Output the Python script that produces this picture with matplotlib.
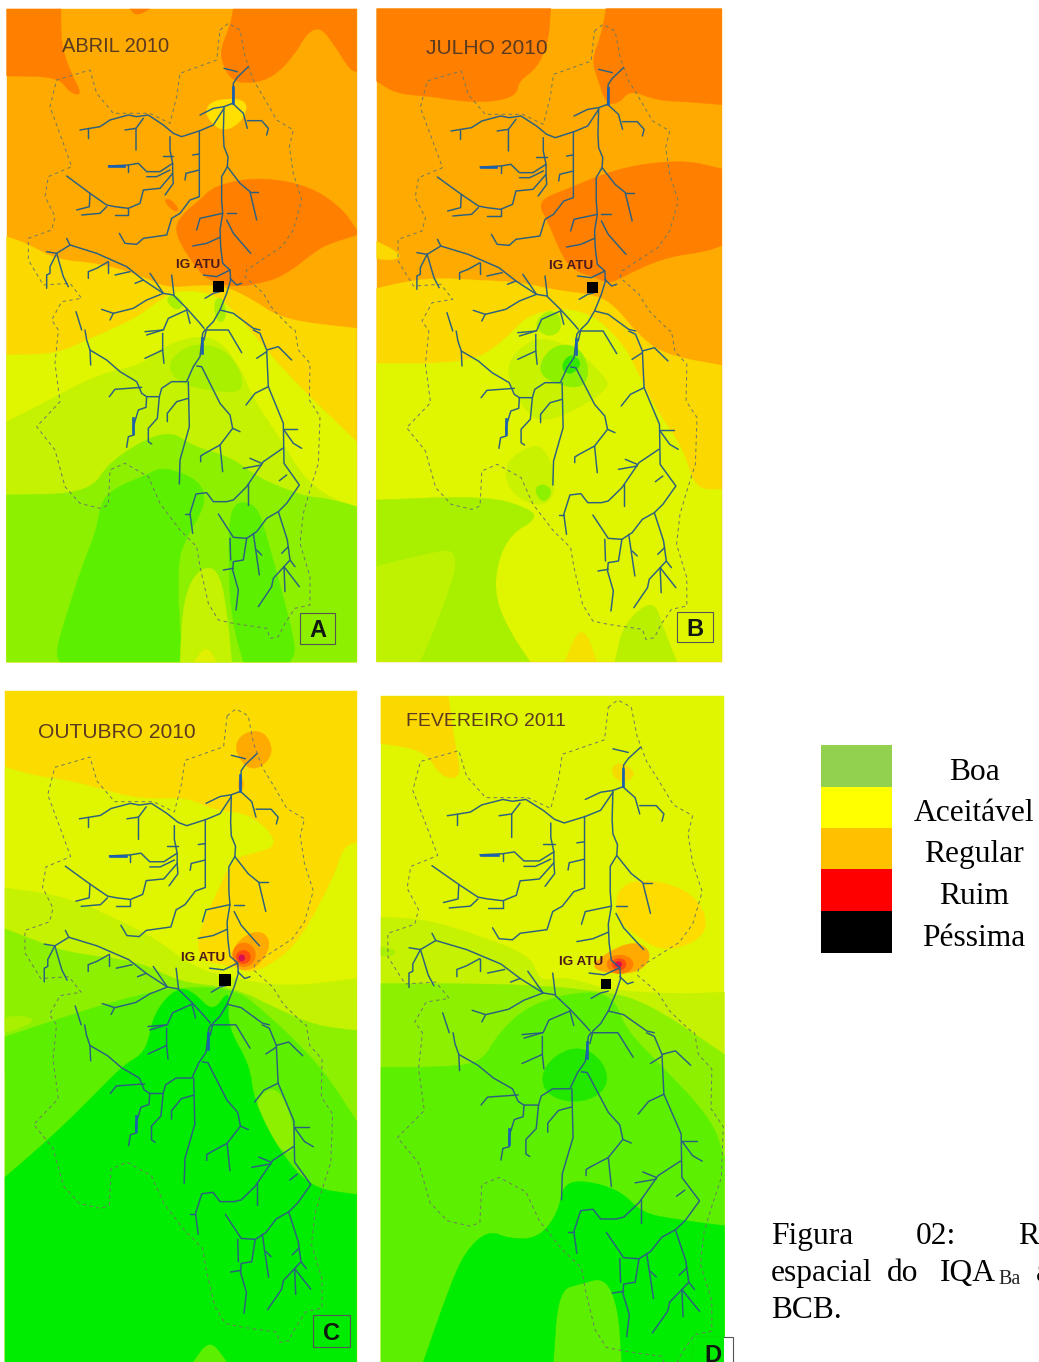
import matplotlib
matplotlib.use("Agg")
import matplotlib.pyplot as plt
from matplotlib.patches import PathPatch, Rectangle, Ellipse
from matplotlib.path import Path

# ---- colours of the interpolated classes
DARK = '#FF8000'; ORANGE = '#FFAA00'; GOLD = '#FBD800'; YG = '#E0F500'; YG2 = '#C4F200'
LIME0 = '#A8F000'; LIME = '#8CF000'; GREEN = '#5CF000'; PURE = '#00EC00'

# ---- river network (3x coordinates; lower part offset 990)
RIVERS_TOP = [
 [(745,200),(712,232),(700,250),(698,310),(672,320),(670,400),(672,440),(684,470),(682,500),(665,530),(665,600),(668,640),(660,690),(662,740),(668,790),(690,810),(692,840),(680,880),(660,930),(640,965),(620,985),(612,1020)],
 [(672,205),(712,215)], [(698,310),(730,340),(742,385)], [(742,362),(785,362),(805,385),(800,405)],
 [(672,320),(640,325),(600,345)],
 [(672,325),(640,375),(600,392),(545,410),(520,400),(490,375),(445,345),(410,350),(385,345),(330,360),(300,380),(240,390)],
 [(265,385),(265,415)], [(430,355),(408,385),(408,450)], [(408,385),(375,390)],
 [(510,410),(510,450),(518,490),(518,520),(520,550),(495,585)], [(490,468),(520,468)],
 [(518,490),(480,515),(440,515),(415,490),(385,495),(325,498)], [(385,495),(385,515)], [(510,510),(470,530),(440,530)],
 [(518,520),(480,565),(430,570),(420,610),(385,625),(345,620),(320,615),(270,580),(200,528)],
 [(385,625),(385,645),(345,645)], [(320,620),(300,640),(245,645)], [(270,580),(268,620),(230,630)],
 [(598,392),(598,590),(570,600),(540,640),(515,655),(500,705),(430,715),(410,733),(375,730),(358,700)],
 [(598,462),(578,465)], [(598,510),(558,520),(555,540)],
 [(682,500),(720,550),(750,575),(770,660)], [(750,575),(775,575)],
 [(668,640),(600,655),(590,690)], [(680,660),(700,700),(752,760)], [(680,640),(708,640)],
 [(660,712),(620,730),(578,738)], [(690,810),(650,830),(610,825)], [(690,835),(710,855),(725,850)],
 [(660,875),(640,880),(615,895)],
 [(200,715),(210,735),(170,760),(140,755)],
 [(210,735),(290,760),(380,800),(430,840),(490,880),(520,885),(560,925),(600,970),(612,985)],
 [(170,760),(150,800),(150,820),(140,825),(140,865)], [(170,760),(190,830),(205,860)],
 [(325,785),(290,805),(265,815),(265,835)], [(325,785),(325,820)], [(390,815),(345,825)], [(430,840),(405,850)],
 [(450,820),(470,850),(490,880)], [(515,825),(522,885)],
 [(490,880),(440,900),(400,925),(340,940),(305,928)], [(340,940),(330,960)],
 [(560,930),(505,955),(490,990),(435,995)], [(560,930),(570,970)],
 [(660,930),(700,940),(760,985),(780,990)],
 [(228,935),(245,990)],
]
RIVERS_BOTTOM = [
 [(255,0),(260,30),(270,60),(320,90),(360,125),(410,155),(425,190),(440,200),(478,200),(485,175),(515,155),(560,155),(580,110),(600,80),(608,10),(615,0)],
 [(270,60),(272,105)], [(425,172),(345,178),(328,200)],
 [(440,200),(438,232),(415,240),(400,290),(402,315),(385,320),(380,352)],
 [(478,200),(472,265),(445,295),(445,335),(455,342)],
 [(565,155),(568,290),(540,390),(538,462)], [(565,205),(530,215),(502,250),(502,275)],
 [(590,108),(605,110),(660,220),(690,255),(698,295),(720,305)],
 [(698,295),(660,345),(615,370),(602,378),(602,395)], [(660,345),(668,425)],
 [(488,0),(440,15)], [(488,10),(488,60),(435,85)], [(488,60),(492,100)],
 [(615,0),(685,0),(725,68)],
 [(760,0),(780,10),(800,60),(805,170),(850,280),(852,400),(898,465),(860,520),(835,545),(800,565),(770,605),(740,625),(700,622),(655,552)],
 [(800,60),(835,50),(875,90)], [(800,65),(770,85)], [(805,170),(765,190),(738,225)],
 [(852,298),(892,298)], [(852,300),(880,340),(905,355)],
 [(848,355),(790,395),(740,470),(700,510),(680,515),(640,515),(620,488),(588,492),(570,550),(578,610)],
 [(785,400),(750,385)], [(785,405),(730,415)], [(745,460),(745,525)], [(570,552),(555,552)], [(860,435),(838,452)],
 [(835,545),(862,630),(870,690),(885,710)], [(865,650),(845,670)],
 [(870,690),(852,710),(820,745),(815,770),(775,830)], [(852,710),(855,785)], [(852,710),(898,770)],
 [(760,610),(778,735)], [(770,660),(785,675)],
 [(740,625),(730,690),(700,695),(698,720),(715,780),(708,840)], [(690,625),(692,690)], [(700,715),(670,720)],
]
THICK_TOP = [[(698,262),(698,308)], [(328,498),(372,498)]]
THICK_BOTTOM = [[(400,265),(400,308)], [(605,25),(605,70)]]

BOUNDARY_TOP = [(660,90),(685,70),(720,90),(735,170),(760,240),(790,290),(830,360),(880,390),(868,440),(880,520),(905,600),(880,690),(845,740),(800,770),(740,810),(735,830),(790,880),(820,930),(880,990)]
BOUNDARY_BOTTOM = [(885,0),(895,60),(930,100),(928,210),(960,260),(955,400),(930,480),(910,550),(900,640),(930,740),(930,825),(885,835),(855,880),(835,920),(810,925),(800,895),(700,880),(655,870),(625,820),(600,710),(590,650),(540,600),(480,520),(445,440),(375,400),(330,420),(325,525),(300,535),(240,520),(195,470),(165,360),(110,290),(180,215),(165,100),(175,0)]
BOUNDARY_TOP2 = [(175,990),(155,960),(185,905),(245,895),(210,850),(130,855),(85,780),(85,715),(155,690),(165,650),(135,590),(145,530),(215,500),(190,430),(150,320),(170,240),(270,210),(290,280),(340,340),(450,340),(510,370),(530,290),(540,220),(650,180),(660,90)]

# ---- class regions, bottom layer first (3x coordinates of each panel)
REGIONS_A = [
 (ORANGE, [(20,27),(1070,27),(1070,1986),(20,1986)]),
 (DARK, [(20,27),(183,27),(183,130),(210,215),(248,285),(210,280),(175,230),(20,228)]),
 (DARK, [(700,27),(1070,27),(1070,215),(1050,210),(1000,130),(960,80),(920,100),(880,170),(820,230),(760,250),(700,245),(670,200),(660,150),(690,80)]),
 (DARK, [(390,27),(450,27),(410,48)]),
 (DARK, [(640,560),(740,535),(850,540),(950,570),(1030,630),(1070,690),(1070,705),(990,730),(950,750),(850,830),(760,855),(700,860),(620,840),(580,790),(540,730),(525,680),(550,640),(600,600)]),
 (DARK, [(490,600),(510,595),(540,630),(520,635)]),
 ('#FFE000', [(615,330),(640,300),(720,295),(745,320),(720,370),(670,395),(630,365)]),
 (GOLD, [(20,710),(80,730),(170,780),(300,790),(430,830),(500,865),(600,855),(680,860),(760,900),(850,960),(1070,985),(1070,1986),(20,1986)]),
 (YG, [(20,1065),(170,1062),(260,1020),(400,960),(480,900),(530,870),(640,880),(700,930),(790,1040),(860,1120),(960,1220),(1070,1325),(1070,1986),(20,1986)]),
 (YG2, [(20,1265),(130,1210),(300,1120),(430,1095),(500,1030),(640,1000),(720,1100),(760,1200),(850,1330),(900,1420),(980,1490),(1070,1520),(1070,1986),(20,1986)]),
 (LIME0, [(500,1100),(540,1050),(600,1030),(680,1050),(730,1130),(720,1180),(620,1170),(540,1150)]),
 (LIME, [(20,1485),(270,1480),(330,1380),(500,1285),(580,1340),(690,1370),(770,1430),(850,1465),(920,1490),(980,1495),(1070,1520),(1070,1986),(20,1986)]),
 (GREEN, [(180,1986),(165,1955),(220,1780),(250,1690),(290,1590),(300,1520),(330,1470),(450,1420),(490,1400),(600,1440),(620,1510),(560,1610),(530,1690),(545,1986)]),
 (GREEN, [(690,1505),(770,1510),(800,1610),(850,1790),(890,1950),(870,1986),(730,1986),(695,1860),(685,1690)]),
 (YG2, [(540,1986),(550,1790),(600,1700),(660,1710),(685,1870),(695,1986)]),
 ('#E0F000', [(580,1986),(620,1935),(650,1986)]),
 (LIME0, [(495,900),(520,880),(555,910),(530,935)]),
 (LIME0, [(640,900),(670,890),(680,960),(650,970)]),
]
REGIONS_B = [
 (ORANGE, [(20,20),(1055,20),(1055,1548),(20,1548)]),
 (DARK, [(20,20),(542,20),(535,100),(500,160),(445,190),(440,225),(350,240),(250,235),(180,225),(80,220),(20,190)]),
 (DARK, [(708,20),(1055,20),(1055,245),(950,238),(860,235),(780,210),(750,240),(710,245),(685,190),(665,140),(695,80)]),
 (DARK, [(500,470),(600,440),(690,410),(800,385),(950,375),(1055,395),(1055,575),(1000,590),(900,600),(800,630),(720,665),(680,650),(600,630),(560,570),(535,520)]),
 (GOLD, [(20,565),(60,580),(100,600),(60,610),(20,605)]),
 (GOLD, [(20,675),(100,660),(200,650),(300,655),(450,660),(560,680),(680,690),(740,720),(800,780),(880,830),(1055,855),(1055,1548),(20,1548)]),
 (YG, [(20,850),(300,850),(400,800),(480,730),(640,720),(760,800),(820,900),(860,960),(940,1050),(975,1145),(1055,1145),(1055,1548),(20,1548)]),
 ('#C8F200', [(400,860),(470,800),(540,790),(640,830),(700,880),(720,905),(640,950),(520,990),(460,960)]),
 (LIME, [(500,870),(540,810),(620,805),(660,860),(640,910),(560,900)]),
 ('#30E800', [(570,860),(600,825),(640,850),(600,880)]),
 (LIME0, [(490,760),(530,725),(570,735),(575,775),(530,790)]),
 ('#C8F200', [(400,1090),(460,1050),(520,1040),(560,1120),(540,1180),(480,1180),(420,1150)]),
 (LIME, [(490,1145),(520,1130),(550,1150),(520,1180)]),
 (LIME0, [(20,1170),(350,1160),(480,1190),(500,1215),(420,1250),(380,1320),(375,1400),(420,1480),(480,1548),(150,1548),(200,1460),(280,1280),(150,1300),(20,1325)]),
 ('#BFF200', [(20,1325),(150,1300),(280,1280),(200,1460),(150,1548),(20,1548)]),
 ('#B8F000', [(735,1548),(760,1460),(850,1400),(880,1470),(920,1548)]),
 ('#F5E000', [(585,1548),(620,1480),(650,1480),(680,1548)]),
]
REGIONS_C = [
 ('#FCDC00', [(15,15),(1070,15),(1070,1568),(15,1568)]),
 (YG, [(15,190),(100,210),(200,220),(300,240),(420,265),(560,260),(640,290),(760,300),(840,370),(760,390),(700,400),(650,480),(590,580),(600,640),(690,650),(750,670),(830,640),(900,590),(1000,450),(1030,375),(1070,365),(1070,800),(15,800)]),
 (YG2, [(15,470),(200,490),(370,550),(470,590),(520,620),(600,660),(700,680),(860,700),(1070,680),(1070,900),(15,900)]),
 (LIME, [(15,565),(100,590),(200,620),(420,640),(540,690),(700,700),(830,750),(950,790),(1070,800),(1070,1568),(15,1568)]),
 (LIME0, [(15,770),(60,765),(110,775),(60,795),(15,805)]),
 (GREEN, [(15,815),(130,785),(350,730),(520,700),(700,700),(800,760),(960,880),(1070,1010),(1070,1568),(15,1568)]),
 (LIME, [(765,960),(830,925),(880,1010),(880,1090),(830,1070),(790,1000)]),
 (PURE, [(15,1140),(150,1050),(270,960),(370,880),(440,850),(460,760),(530,700),(580,710),(640,760),(690,700),(680,790),(750,880),(760,960),(830,1070),(930,1165),(1070,1180),(1070,1568),(15,1568)]),
 (GREEN, [(580,1568),(630,1515),(680,1568)]),
 (ORANGE, [(700,145),(730,110),(790,105),(822,150),(790,190),(740,195)]),
 (ORANGE, [(715,215),(730,215),(730,245),(715,245)]),
 (ORANGE, [(700,600),(770,565),(815,590),(790,640),(740,665),(700,650)]),
]
REGIONS_D = [
 (YG, [(18,15),(1048,15),(1048,1568),(18,1568)]),
 (GOLD, [(18,15),(220,15),(240,130),(260,205),(200,205),(150,140),(18,125)]),
 ('#F5DC00', [(705,190),(730,165),(790,195),(740,220)]),
 ('#FFDC00', [(720,470),(790,440),(900,455),(970,490),(1000,550),(960,590),(860,610),(780,570),(730,540)]),
 (YG2, [(18,530),(150,535),(300,570),(470,620),(490,680),(560,670),(620,680),(700,700),(900,710),(1048,705),(1048,1568),(18,1568)]),
 (LIME0, [(18,600),(60,605),(60,620),(18,620)]),
 (LIME, [(18,685),(300,685),(500,690),(640,700),(800,720),(1048,850),(1048,1568),(18,1568)]),
 (GREEN, [(18,880),(200,880),(320,870),(370,800),(470,730),(640,700),(720,720),(750,790),(850,870),(1010,1000),(1048,1090),(1048,1568),(18,1568)]),
 ('#22E800', [(495,900),(540,850),(620,830),(690,870),(700,930),(620,965),(520,950)]),
 (PURE, [(145,1568),(220,1400),(270,1310),(340,1260),(400,1280),(490,1280),(550,1220),(565,1150),(640,1145),(740,1170),(800,1220),(900,1235),(1048,1250),(1048,1568),(740,1568),(730,1440),(690,1370),(620,1385),(550,1400),(535,1568)]),
 (ORANGE, [(640,650),(700,610),(780,585),(830,610),(810,650),(740,665)]),
]
# hot spots near the town: (x, y, width, height, colour) in the same coordinates
HOT_C = [(732,625,70,56,DARK), (730,630,44,32,'#FF4A10'), (725,632,20,16,'#D81050')]
HOT_D = [(735,640,80,44,DARK), (732,640,44,28,'#FF4A10'), (730,640,22,14,'#D81050')]

# ---- panels
P_ZOOM = {'A': (0,0,3.0,3.0), 'B': (370,0,3.0,2.34), 'C': (0,685,3.0,2.316), 'D': (375,690,3.0,2.333)}
P_RIVER = {'A': (218,286,1,1), 'B': (592.5,287,1.025,1.0), 'C': (225,979.5,1.055,1.03), 'D': (606,985,1.15,1.085)}
P_REG = {'A': REGIONS_A, 'B': REGIONS_B, 'C': REGIONS_C, 'D': REGIONS_D}
P_HOT = {'A': [], 'B': [], 'C': HOT_C, 'D': HOT_D}
TITLES = {'A': ('ABRIL 2010',116,47,20), 'B': ('JULHO 2010',487,48,21), 'C': ('OUTUBRO 2010',117,733,21), 'D': ('FEVEREIRO 2011',486,721,19.5)}
TOWN = {'A': (198,265), 'B': (571,266), 'C': (203,958), 'D': (581,962)}
SQUARE = {'A': (218,286,11), 'B': (592.5,287,11), 'C': (225,979.5,12), 'D': (606,984,10)}
BOXES = {'A': ('A',300,613,35,31), 'B': ('B',677,612,36,30), 'C': ('C',313,1315,37,32), 'D': ('D',693,1337,40,30)}

LEGEND_LABELS = ['Boa','Aceitável','Regular','Ruim','Péssima']
LEGEND_COLORS = ['#92D050','#FFFF00','#FFC000','#FF0000','#000000']
LEGEND_EDGES = [745,787,828,869,911,953]

fig = plt.figure(figsize=(10.39,13.62), dpi=100, facecolor='white')
ax = fig.add_axes([0,0,1,1])
ax.set_xlim(0,1039); ax.set_ylim(1362,0); ax.axis('off')

def base(points, off=0):
    return [(x/3.0, (y+off)/3.0) for x,y in points]

def smooth_path(pts, bounds):
    """Closed outline drawn with quadratic curves; vertices on the panel frame stay sharp."""
    xmin,xmax,ymin,ymax = bounds
    on_frame = [x in (xmin,xmax) or y in (ymin,ymax) for x,y in pts]
    n = len(pts)
    mid = lambda a,b: ((a[0]+b[0])/2, (a[1]+b[1])/2)
    verts = [mid(pts[-1],pts[0])]; codes = [Path.MOVETO]
    for i,p in enumerate(pts):
        m = mid(p, pts[(i+1)%n])
        if on_frame[i]:
            verts += [p,m]; codes += [Path.LINETO,Path.LINETO]
        else:
            verts += [p,m]; codes += [Path.CURVE3,Path.CURVE3]
    verts.append(verts[0]); codes.append(Path.CLOSEPOLY)
    return Path(verts,codes)

RIV = [base(r) for r in RIVERS_TOP] + [base(r,990) for r in RIVERS_BOTTOM]
THK = [base(r) for r in THICK_TOP] + [base(r,990) for r in THICK_BOTTOM]
BND = base(BOUNDARY_TOP) + base(BOUNDARY_BOTTOM,990) + base(BOUNDARY_TOP2)

for key in 'ABCD':
    x0,y0,sx,sy = P_ZOOM[key]
    regs = P_REG[key]
    fx = [p[0] for p in regs[0][1]]; fy = [p[1] for p in regs[0][1]]
    bounds = (min(fx),max(fx),min(fy),max(fy))
    for col, pts in regs:
        path = smooth_path(pts, bounds)
        path = Path([(x0+x/sx, y0+y/sy) for x,y in path.vertices], path.codes)
        ax.add_patch(PathPatch(path, fc=col, ec=col, lw=0.3, zorder=1))
    for x,y,w,h,col in P_HOT[key]:
        ax.add_patch(Ellipse((x0+x/sx, y0+y/sy), w/sx, h/sy, fc=col, ec='none', zorder=2))
    ox,oy,kx,ky = P_RIVER[key]
    tr = lambda pts: ([ox+kx*(x-218) for x,y in pts], [oy+ky*(y-286) for x,y in pts])
    bx,by = tr(BND)
    ax.plot(bx,by,color='#6E7A60',lw=0.7,ls=(0,(3.5,3.5)),zorder=3)
    for r in RIV:
        xs,ys = tr(r)
        ax.plot(xs,ys,color='#2C6080',lw=1.05,solid_joinstyle='round',solid_capstyle='round',zorder=4)
    for r in THK:
        xs,ys = tr(r)
        ax.plot(xs,ys,color='#1A60B0',lw=1.9,zorder=5)
    t,tx,ty,fs = TITLES[key]
    ax.text(tx,ty,t,ha='center',va='center',family='Liberation Sans',fontsize=fs*0.72,color='#5A3A20',zorder=6)
    tx,ty = TOWN[key]
    ax.text(tx,ty,'IG ATU',ha='center',va='center',family='Liberation Sans',fontsize=9.7,fontweight='bold',color='#4A1A1A',zorder=6)
    sq = SQUARE[key]
    ax.add_patch(Rectangle((sq[0]-sq[2]/2, sq[1]-sq[2]/2), sq[2], sq[2], fc='black', ec='none', zorder=6))
    lab,bx0,by0,bw,bh = BOXES[key]
    ax.add_patch(Rectangle((bx0,by0),bw,bh,fc='white' if key=='D' else 'none',ec='#555555',lw=0.8,zorder=6))
    if key == 'D':
        ax.add_patch(Rectangle((bx0,by0),724-bx0,bh,fc=PURE,ec='none',zorder=6))
    ax.text(bx0+bw/2, by0+bh/2 + (2 if key!='D' else 3), lab, ha='center', va='center',
            family='Liberation Sans', fontweight='bold', fontsize=17, color='#101810', zorder=7)

for i,(lab,col) in enumerate(zip(LEGEND_LABELS,LEGEND_COLORS)):
    ax.add_patch(Rectangle((821,LEGEND_EDGES[i]),71,LEGEND_EDGES[i+1]-LEGEND_EDGES[i],fc=col,ec='none',zorder=2))
    ax.text(974,(LEGEND_EDGES[i]+LEGEND_EDGES[i+1])/2+6,lab,ha='center',va='center',family='Liberation Serif',fontsize=22.7,color='black')

serif = dict(family='Liberation Serif', fontsize=22.7, color='black', va='baseline', ha='left')
ax.text(771,1244,'Figura',**serif)
ax.text(916,1244,'02:',**serif)
ax.text(1018,1244,'R',**serif)
ax.text(771,1281,'espacial',**serif)
ax.text(887,1281,'do',**serif)
ax.text(940,1281,'IQA',**serif)
ax.text(998,1284,'Ba',family='Liberation Serif',fontsize=14.5,color='#222222',va='baseline',ha='left')
ax.text(1036,1281,'a',**serif)
ax.text(771,1318,'BCB.',**serif)

fig.savefig('out.png', dpi=100)
